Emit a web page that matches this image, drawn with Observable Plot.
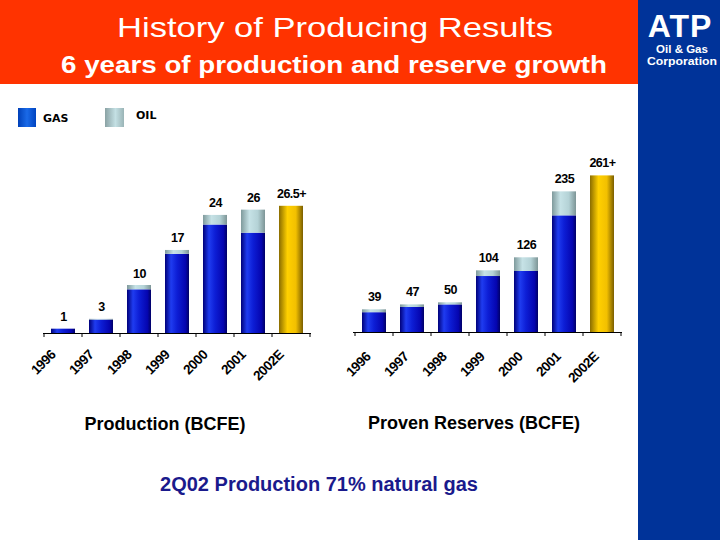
<!DOCTYPE html>
<html>
<head>
<meta charset="utf-8">
<script src="https://cdn.jsdelivr.net/npm/d3@7"></script>
<script src="https://cdn.jsdelivr.net/npm/@observablehq/plot@0.6"></script>
<style>
  html, body { margin: 0; padding: 0; background: #fff; }
  body { width: 720px; height: 540px; position: relative; overflow: hidden; font-family: "Liberation Sans", Arial, sans-serif; }
  .chart { position: absolute; }
</style>
</head>
<body>
<svg id="bg" width="720" height="540" style="position:absolute;left:0;top:0" font-family="Liberation Sans, Arial, sans-serif">
  <defs>
    <linearGradient id="gasG" x1="0" x2="1" y1="0" y2="0">
      <stop offset="0" stop-color="#00007a"/>
      <stop offset="0.25" stop-color="#1f3cf0"/>
      <stop offset="0.5" stop-color="#0d1ed6"/>
      <stop offset="0.85" stop-color="#0505b0"/>
      <stop offset="1" stop-color="#000066"/>
    </linearGradient>
    <linearGradient id="oilG" x1="0" x2="1" y1="0" y2="0">
      <stop offset="0" stop-color="#7f9a9c"/>
      <stop offset="0.35" stop-color="#c6e2e6"/>
      <stop offset="0.7" stop-color="#b4d2d6"/>
      <stop offset="1" stop-color="#7d9596"/>
    </linearGradient>
    <linearGradient id="estG" x1="0" x2="1" y1="0" y2="0">
      <stop offset="0" stop-color="#8a6c00"/>
      <stop offset="0.35" stop-color="#ffd000"/>
      <stop offset="0.7" stop-color="#f2c000"/>
      <stop offset="1" stop-color="#7a5e00"/>
    </linearGradient>
    <linearGradient id="legGas" x1="0" x2="1" y1="0" y2="0">
      <stop offset="0" stop-color="#0040b8"/>
      <stop offset="0.5" stop-color="#1a6ae8"/>
      <stop offset="1" stop-color="#0044c0"/>
    </linearGradient>
    <linearGradient id="legOil" x1="0" x2="1" y1="0" y2="0">
      <stop offset="0" stop-color="#8aa2a4"/>
      <stop offset="0.55" stop-color="#c4e0e4"/>
      <stop offset="1" stop-color="#9ab4b6"/>
    </linearGradient>
  </defs>
  <rect x="0" y="0" width="638" height="84" fill="#ff3300"/>
  <rect x="638" y="0" width="82" height="540" fill="#003399"/>
  <text x="335" y="37" text-anchor="middle" font-size="28" fill="#fff" textLength="436" lengthAdjust="spacingAndGlyphs">History of Producing Results</text>
  <text x="334" y="72.5" text-anchor="middle" font-size="23" font-weight="bold" fill="#fff" textLength="546" lengthAdjust="spacingAndGlyphs">6 years of production and reserve growth</text>
  <text x="680" y="36.5" text-anchor="middle" font-size="32" font-weight="bold" fill="#fff" letter-spacing="1">ATP</text>
  <text x="682" y="53" text-anchor="middle" font-size="11.5" font-weight="bold" fill="#fff">Oil &amp; Gas</text>
  <text x="682" y="64.5" text-anchor="middle" font-size="11.5" font-weight="bold" fill="#fff" textLength="70" lengthAdjust="spacingAndGlyphs">Corporation</text>
  <rect x="18" y="108" width="18" height="19" fill="url(#legGas)"/>
  <text x="43" y="122" font-family="DejaVu Sans, sans-serif" font-size="11" font-weight="bold" fill="#000">GAS</text>
  <rect x="105" y="108" width="19" height="19" fill="url(#legOil)"/>
  <text x="136" y="119" font-family="DejaVu Sans, sans-serif" font-size="11" font-weight="bold" fill="#000">OIL</text>
  <text x="165" y="430" text-anchor="middle" font-size="18" font-weight="bold" fill="#000">Production (BCFE)</text>
  <text x="474" y="428.5" text-anchor="middle" font-size="18" font-weight="bold" fill="#000">Proven Reserves (BCFE)</text>
  <text x="319" y="491" text-anchor="middle" font-size="20" font-weight="bold" fill="#1a1a8c">2Q02 Production 71% natural gas</text>
</svg>
<div id="left" class="chart" style="left:0px;top:150px;width:320px;"></div>
<div id="right" class="chart" style="left:320px;top:130px;width:315px;"></div>
<script>
// ---- data ----
const years = ["1996", "1997", "1998", "1999", "2000", "2001", "2002E"];
const prodGas = [0.9, 2.8, 9.1, 16.5, 22.6, 20.9];
const prodOil = [0, 0.15, 0.9, 0.8, 2.0, 4.8];
const prodEst = 26.5;
const prodLabels = ["1", "3", "10", "17", "24", "26", "26.5+"];
const resGas = [33, 41.7, 46, 93.3, 101.7, 194.4];
const resOil = [4.8, 4.3, 3.5, 9.5, 22.8, 40];
const resEst = 261;
const resLabels = ["39", "47", "50", "104", "126", "235", "261+"];
const seriesNames = ["Gas", "Oil", "Est"];

function buildRows(gas, oil, est) {
  const rows = [];
  gas.forEach((g, i) => {
    rows.push({year: years[i], type: "Gas", value: g});
    rows.push({year: years[i], type: "Oil", value: oil[i]});
  });
  rows.push({year: years[years.length - 1], type: "Est", value: est});
  return rows;
}
function buildTotals(gas, oil, est, labels) {
  return years.map((y, i) => ({
    year: y,
    total: i < gas.length ? gas[i] + oil[i] : est,
    label: labels[i]
  }));
}

function makeChart(gas, oil, est, labels, cfg) {
  const rows = buildRows(gas, oil, est);
  const totals = buildTotals(gas, oil, est, labels);
  const plot = Plot.plot({
    width: cfg.width,
    height: cfg.height,
    marginTop: cfg.mt,
    marginBottom: cfg.mb,
    marginLeft: cfg.ml,
    marginRight: cfg.mr,
    style: {background: "transparent", fontFamily: "Liberation Sans, Arial, sans-serif", overflow: "visible"},
    x: {domain: years, paddingInner: 0.37, paddingOuter: 0.185, axis: null},
    y: {domain: [0, cfg.ymax], axis: null},
    color: {domain: seriesNames, range: ["url(#gasG)", "url(#oilG)", "url(#estG)"]},
    marks: [
      Plot.barY(rows, {x: "year", y: "value", fill: "type"}),
      Plot.ruleY([0], {stroke: "#000", strokeWidth: 1}),
      Plot.text(totals, {x: "year", y: "total", text: "label", dy: cfg.labelDy,
        fontSize: 12.5, fontWeight: "bold", fill: "#000"}),
      Plot.text(years, {x: d => d, text: d => d, frameAnchor: "bottom", rotate: -45,
        textAnchor: "end", dx: cfg.tickDx, dy: cfg.tickDy, fontSize: 13.5, fontWeight: "bold", fill: "#000"})
    ]
  });
  plot.style.letterSpacing = "-0.5px";
  // boundary ticks on the category axis
  const xs = plot.scale("x");
  const ys = plot.scale("y");
  const y0 = ys.apply(0);
  const starts = years.map(y => xs.apply(y));
  const step = xs.step !== undefined ? xs.step : (starts[1] - starts[0]);
  const gap = step - xs.bandwidth;
  const bounds = starts.map(s => s - gap / 2);
  bounds.push(starts[starts.length - 1] + xs.bandwidth + gap / 2);
  d3.select(plot).append("g")
    .selectAll("line").data(bounds).join("line")
    .attr("x1", d => d).attr("x2", d => d)
    .attr("y1", y0).attr("y2", y0 + 4)
    .attr("stroke", "#000").attr("stroke-width", 1);
  return plot;
}

document.getElementById("left").appendChild(
  makeChart(prodGas, prodOil, prodEst, prodLabels,
    {width: 320, height: 243, mt: 39, mb: 60, ml: 43, mr: 9, ymax: 30, labelDy: -12, tickDx: -7, tickDy: 22})
);
document.getElementById("right").appendChild(
  makeChart(resGas, resOil, resEst, resLabels,
    {width: 315, height: 262, mt: 22, mb: 60, ml: 33, mr: 13, ymax: 300, labelDy: -13, tickDx: -3, tickDy: 25})
);
</script>
</body>
</html>
